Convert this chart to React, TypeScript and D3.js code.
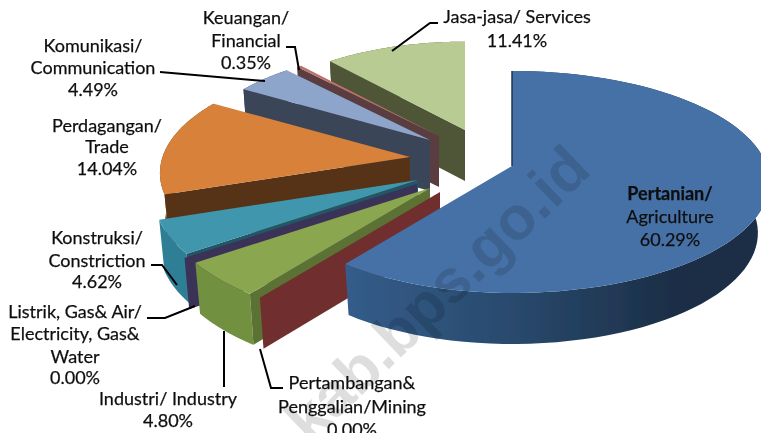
import React from "react";
import * as d3 from "d3";

// ---- data ----
const categories = ["Pertanian", "Pertambangan", "Industri", "Listrik", "Konstruksi", "Perdagangan", "Komunikasi", "Keuangan", "Jasa"];
const shares = [60.29, 0.0, 4.8, 0.0, 4.62, 14.04, 4.49, 0.35, 11.41];
const labelLines = [
  ["Pertanian/", "Agriculture", "60.29%"],
  ["Pertambangan&", "Penggalian/Mining", "0.00%"],
  ["Industri/ Industry", "4.80%"],
  ["Listrik, Gas& Air/", "Electricity, Gas&", "Water", "0.00%"],
  ["Konstruksi/", "Constriction", "4.62%"],
  ["Perdagangan/", "Trade", "14.04%"],
  ["Komunikasi/", "Communication", "4.49%"],
  ["Keuangan/", "Financial", "0.35%"],
  ["Jasa-jasa/ Services", "11.41%"],
];

// ---- styles / layout ----
const topColors = ["#4571a6", "#8f3b38", "#8aa650", "#5f4a85", "#3f96ad", "#d7813a", "#8ea5cb", "#bd706e", "#b7cb92"];
const radialWall = ["#1f3550", "#6f2f2d", "#5c7234", "#3b3158", "#235566", "#573316", "#3a4458", "#5a3d40", "#4f5638"];
const arcWall = ["url(#blueWall)", "#6f2f2d", "#71903f", "#3b3158", "#2f7f96", "#573316", "#3a4458", "#5a3d40", "#4f5638"];
const apexX = [512, 440, 430, 417, 418, 410, 430, 439, 465];
const apexY = [166, 192, 188, 184, 180, 157, 140, 136, 130];
const radiusScale = [1, 1.08, 1.08, 1.07, 1.065, 1.01, 0.96, 0.95, 0.93];
const labelX = [670, 352, 168, 75, 97, 107, 93, 246, 517];
const labelY = [
  [200, 223, 246],
  [389, 413, 436],
  [405, 427],
  [318, 340, 363, 384],
  [244, 267, 288],
  [132, 153, 175],
  [52, 74, 96],
  [24, 47, 69],
  [23, 47],
];
const leaders: [number, number][][] = [
  [[286, 47], [295, 47], [299, 70]],
  [[160, 72], [265, 81]],
  [[438, 23], [430, 23], [392, 51]],
  [[151, 265], [162, 265], [177, 285]],
  [[147, 318], [165, 318], [195, 306]],
  [[224, 331], [224, 387]],
  [[260, 349], [271, 388], [283, 388]],
];

const R = 245;
const Ry = 108.7;
const K = 0.144;
const DEPTH = 51;
const STEPS = 80;

function project(i: number, theta: number, down: boolean): [number, number] {
  const u = Math.sin(theta);
  const v = -Math.cos(theta);
  const s = 1 / (1 - K * v);
  const stretch = i === 0 && u > 0 ? 1.04 : 1;
  let dx = radiusScale[i] * R * u * s * stretch;
  let dy = radiusScale[i] * Ry * v * s;
  if (down) {
    dx *= dx < 0 ? 0.98 : 0.955;
    dy += DEPTH;
  }
  return [apexX[i] + dx, apexY[i] + dy];
}

const line = d3.line<[number, number]>();

export default function App() {
  const arcs = d3
    .pie<number>()
    .sort(null)
    .startAngle(0)
    .endAngle(2 * Math.PI)(shares);

  const samples = (a: d3.PieArcDatum<number>) =>
    d3.range(STEPS + 1).map((k) => a.startAngle + ((a.endAngle - a.startAngle) * k) / STEPS);

  const order = [8, 7, 6, 5, 4, 3, 2, 1, 0];

  return (
    <svg
      width={761}
      height={433}
      viewBox="0 0 761 433"
      style={{ position: "fixed", left: 0, top: 0, background: "#fff", display: "block" }}
      fontFamily="Lato, 'Open Sans', sans-serif"
    >
      <defs>
        <linearGradient id="blueWall" gradientUnits="userSpaceOnUse" x1={346} x2={680} y1={0} y2={0}>
          <stop offset="0" stopColor="#345c8a" />
          <stop offset="0.5" stopColor="#294a6d" />
          <stop offset="1" stopColor="#1b2d45" />
        </linearGradient>
        <filter id="soft" x="-5%" y="-5%" width="110%" height="110%">
          <feGaussianBlur stdDeviation="0.4" />
        </filter>
      </defs>
      <g filter="url(#soft)">
        {order.map((i) => {
          const a = arcs[i];
          const th = samples(a);
          const top = th.map((t) => project(i, t, false));
          const bottom = th.map((t) => project(i, t, true));
          const apex: [number, number] = [apexX[i], apexY[i]];
          const apexDown: [number, number] = [apexX[i], apexY[i] + DEPTH];
          const empty = a.endAngle - a.startAngle < 1e-6;
          return (
            <g key={categories[i]}>
              {!empty && (
                <path d={line([...top, ...bottom.slice().reverse()]) + "Z"} fill={arcWall[i]} />
              )}
              {i !== 0 && (
                <path d={line([apex, apexDown, bottom[0], top[0]]) + "Z"} fill={radialWall[i]} />
              )}
              {!empty && <path d={line([apex, ...top]) + "Z"} fill={topColors[i]} />}
              {i === 0 && <path d={line([top[0], apex])!} stroke={radialWall[0]} strokeWidth={1.5} fill="none" />}
            </g>
          );
        })}
        {leaders.map((pts, i) => (
          <path key={i} d={line(pts)!} fill="none" stroke="#000" strokeWidth={2} />
        ))}
        <text
          transform="translate(593,172) rotate(-44)"
          textAnchor="end"
          fontFamily="'Liberation Sans', Arial, sans-serif"
          fontWeight={700}
          fontSize={61}
          fill="#000"
          fillOpacity={0.13}
        >
          kab.bps.go.id
        </text>
        {labelLines.map((lines, i) =>
          lines.map((t, j) => (
            <text
              key={i + "-" + j}
              x={labelX[i]}
              y={labelY[i][j]}
              textAnchor="middle"
              fontSize={18}
              fontWeight={i === 0 && j === 0 ? 700 : 400}
              fill="#111"
              stroke="#111"
              strokeWidth={0.25}
            >
              {t}
            </text>
          ))
        )}
      </g>
    </svg>
  );
}
